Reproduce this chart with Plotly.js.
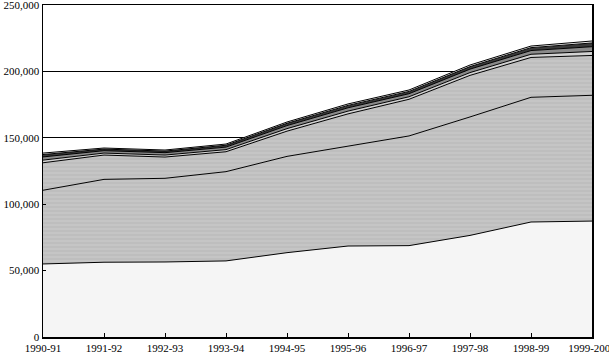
<!DOCTYPE html>
<html>
<head>
<meta charset="utf-8">
<script src="https://cdn.plot.ly/plotly-3.0.1.min.js"></script>
<style>html,body{margin:0;padding:0;background:#fff;}#chart{width:609px;height:361px;}</style>
</head>
<body>
<div id="chart"></div>
<script>
const years = ["1990-91","1991-92","1992-93","1993-94","1994-95","1995-96","1996-97","1997-98","1998-99","1999-2000"];
const series1 = [55000,56300,56500,57300,63500,68500,68800,76500,86600,87300];
const series2 = [55500,62400,63000,67200,72500,75300,82600,89200,93900,94700];
const series3 = [20700,18300,16000,15000,19000,24200,27600,31300,30000,30000];
const series4 = [2000,1500,1500,1600,1900,2100,1900,2100,2400,3000];
const series5 = [2400,1800,1800,1900,2300,2500,2300,2600,2800,3600];
const series6 = [1800,1200,1200,1400,1700,1800,1700,1900,2200,2800];
const series7 = [1100,800,800,900,1000,1100,1100,1200,1200,1500];
const yTicks = [0,50000,100000,150000,200000,250000];

const layers = [
  {y: series1, color: '#f5f5f5'},
  {y: series2, color: '#c4c4c4', pattern: true},
  {y: series3, color: '#c4c4c4', pattern: true},
  {y: series4, color: '#d2d2d2'},
  {y: series5, color: '#8a8a8a'},
  {y: series6, color: '#3a3a3a'},
  {y: series7, color: '#efefef'}
];

const data = layers.map(function(l){
  const t = {
    x: years, y: l.y, type: 'scatter', mode: 'lines',
    stackgroup: 'one', fill: 'tonexty', fillcolor: l.color,
    line: {color: '#000', width: 1, shape: 'linear'},
    hoverinfo: 'skip'
  };
  if (l.pattern) {
    t.fillpattern = {shape: '-', fgcolor: '#b8b8b8', bgcolor: '#c5c5c5', size: 4, solidity: 0.25};
  }
  return t;
});

const layout = {
  width: 609, height: 361,
  margin: {l: 43, r: 17, t: 5, b: 24},
  paper_bgcolor: '#fff', plot_bgcolor: '#fff',
  showlegend: false,
  font: {family: 'Liberation Serif, DejaVu Serif, serif', size: 11, color: '#000'},
  xaxis: {
    type: 'category', range: [0, 9],
    showline: true, linecolor: '#000', linewidth: 1.5, mirror: true,
    ticks: 'inside', ticklen: 4, tickcolor: '#000',
    showgrid: false, zeroline: false, ticklabeloverflow: 'allow',
    tickfont: {size: 11}
  },
  yaxis: {
    range: [0, 250000], tickvals: yTicks, tickformat: ',d',
    showline: true, linecolor: '#000', linewidth: 1.5, mirror: true,
    ticks: 'inside', ticklen: 3, tickcolor: '#000',
    showgrid: true, gridcolor: '#000', gridwidth: 1,
    zeroline: false, ticklabeloverflow: 'allow',
    tickfont: {size: 11}
  }
};

Plotly.newPlot('chart', data, layout, {staticPlot: true, displayModeBar: false});
</script>
</body>
</html>
